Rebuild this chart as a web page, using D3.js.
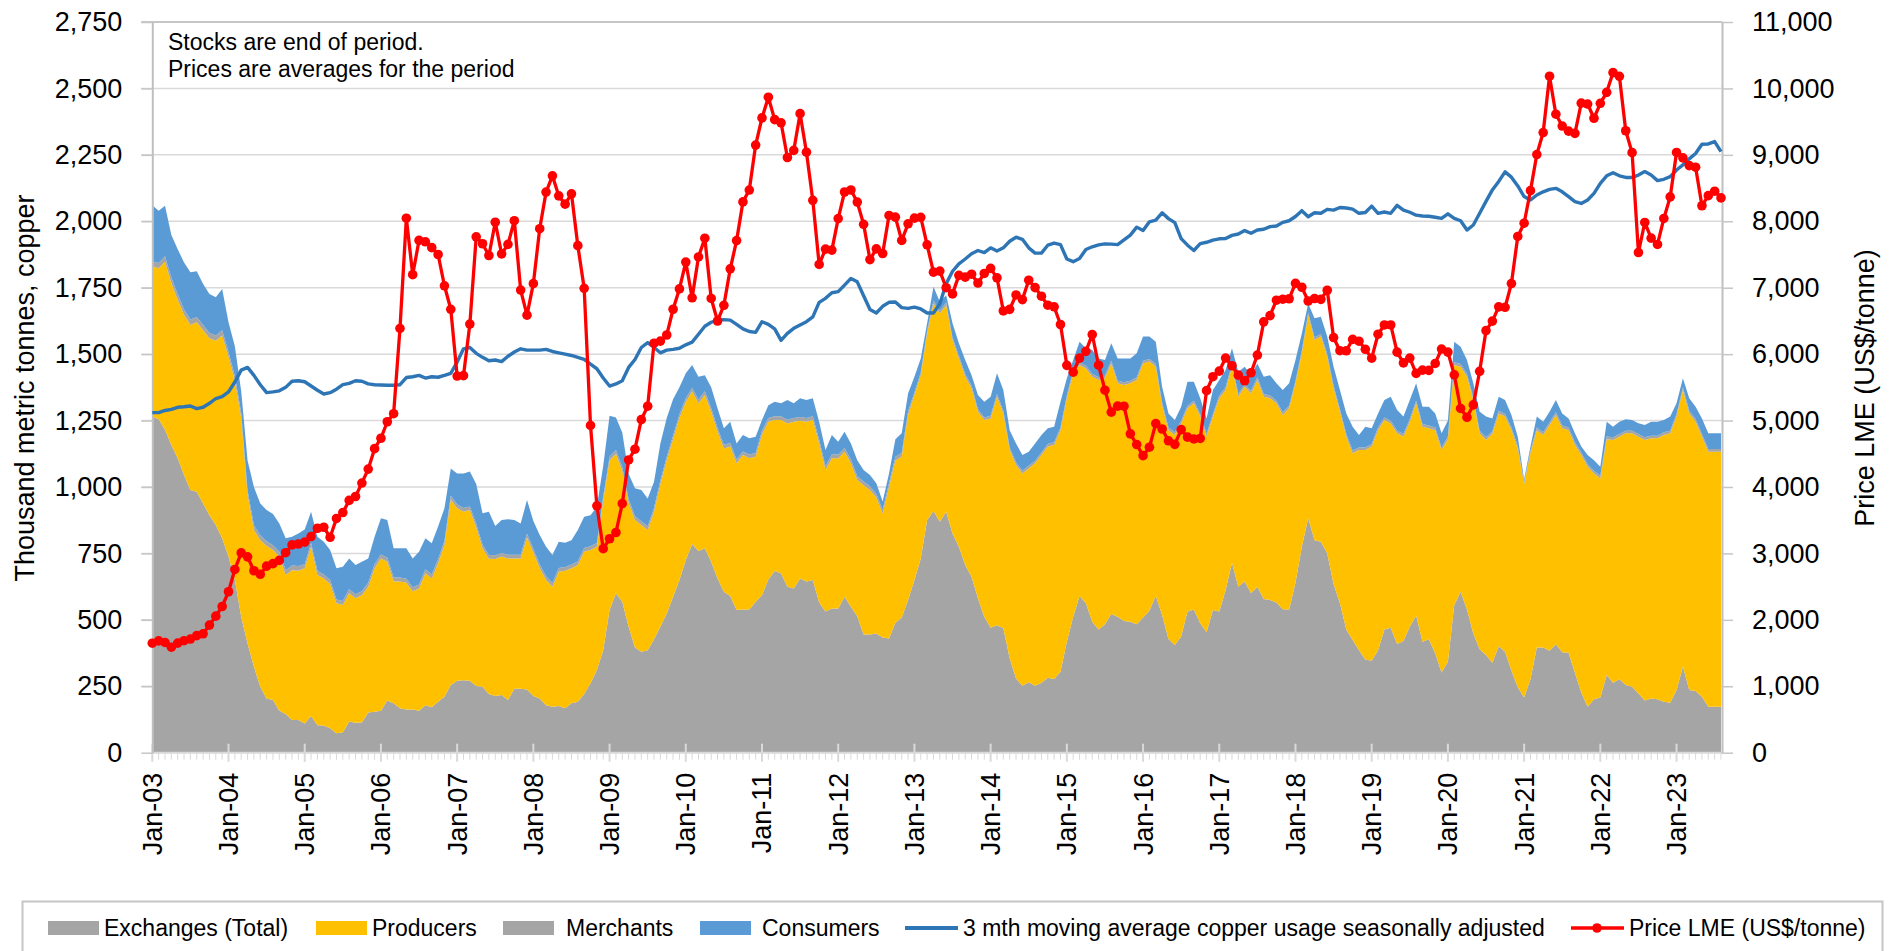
<!DOCTYPE html>
<html>
<head>
<meta charset="utf-8">
<script src="https://cdn.jsdelivr.net/npm/d3@7"></script>
<style>
  body { margin: 0; background: #fff; }
  svg text { font-family: "Liberation Sans", Arial, sans-serif; fill: #000; }
</style>
</head>
<body>
<svg id="chart" width="1903" height="951"></svg>
<script>
// Monthly data Jan-03 .. Aug-23, thousand tonnes (stocks, usage) and US$/t (price)
const exchanges = [
  1265,1255,1215,1158,1108,1045,989,982,938,894,857,807,
  738,650,512,411,324,248,204,198,158,146,123,123,
  110,138,103,102,92,73,77,117,113,114,151,154,
  158,196,186,167,163,163,158,179,171,192,211,255,
  271,273,271,251,248,221,213,217,198,241,241,238,
  213,204,179,173,176,167,186,192,221,261,311,386,
  537,600,568,474,396,380,386,427,474,524,587,650,
  725,785,759,769,719,656,606,590,537,539,539,568,
  593,652,684,675,625,618,656,644,650,565,531,543,
  543,587,549,514,445,445,449,434,430,489,508,575,
  650,731,876,910,869,907,825,775,706,662,581,512,
  470,480,468,355,279,252,265,252,263,282,277,305,
  418,512,590,562,493,464,483,522,512,496,493,483,
  509,534,591,518,428,405,437,531,539,487,453,537,
  531,612,715,625,644,600,625,578,575,565,540,539,
  640,775,882,800,794,750,635,562,464,424,386,351,
  346,386,464,470,409,420,474,516,418,427,374,302,
  342,556,606,539,449,389,368,339,401,380,309,246,
  208,276,396,396,384,408,378,376,301,227,173,201,
  208,292,263,276,255,248,223,196,204,201,192,188,
  236,324,236,232,211,173,173,173
];
const producers = [
  565,568,633,610,597,603,621,638,652,666,693,763,
  752,750,748,559,514,552,574,565,580,523,564,562,
  584,637,566,554,543,489,479,483,468,479,474,540,
  573,523,458,477,477,445,460,496,485,521,571,698,
  649,634,642,597,521,509,516,521,533,490,490,572,
  540,490,471,452,505,518,508,514,535,502,464,564,
  563,525,492,466,480,477,452,480,536,576,593,610,
  595,574,556,577,564,552,539,562,552,581,569,546,
  605,594,568,577,614,628,593,602,602,599,533,565,
  565,546,540,512,562,544,511,466,570,611,606,696,
  696,690,702,781,784,778,728,709,709,709,702,740,
  788,860,809,784,804,799,805,837,857,870,881,909,
  916,916,869,884,922,939,926,943,878,888,897,920,
  956,938,862,790,786,791,802,765,776,778,737,728,
  803,753,738,715,733,752,778,762,759,750,731,757,
  750,728,765,753,772,740,736,721,725,703,753,788,
  806,828,788,769,793,769,772,799,809,794,840,837,
  838,903,847,876,878,813,809,861,876,885,905,899,
  802,851,818,800,849,863,843,838,857,893,903,850,
  824,888,914,913,947,954,966,981,979,982,1004,1014,
  1029,1041,1041,1014,978,960,960,960
];
const merchants = [
  20,20,20,20,20,20,20,20,20,20,20,20,
  18,18,18,18,18,18,18,18,18,18,18,18,
  15,15,15,15,15,15,15,15,15,15,15,15,
  15,15,15,15,15,15,15,15,15,15,15,15,
  14,14,14,14,14,14,14,14,14,14,14,14,
  14,14,14,14,14,14,14,14,14,14,14,14,
  14,14,14,14,14,14,14,14,14,14,14,14,
  14,14,14,14,14,14,14,14,14,14,14,14,
  14,14,14,14,14,14,14,14,14,14,14,14,
  14,14,14,14,14,14,14,14,14,14,14,14,
  10,10,10,10,10,10,10,10,10,10,10,10,
  10,10,10,10,10,10,10,10,10,10,10,10,
  10,10,10,10,10,10,10,10,10,10,10,10,
  10,10,10,10,10,10,10,10,10,10,10,10,
  10,10,10,10,10,10,10,10,10,10,10,10,
  10,10,10,10,10,10,10,10,10,10,10,10,
  10,10,10,10,10,10,10,10,10,10,10,10,
  10,10,10,10,10,10,10,10,10,10,10,10,
  10,10,10,10,10,10,10,10,10,10,10,10,
  10,10,10,10,10,10,10,10,10,10,10,10,
  10,10,10,10,10,10,10,10
];
const consumers = [
  210,197,190,160,170,177,178,172,154,146,144,155,
  112,112,82,112,144,120,117,117,107,120,108,122,
  131,117,129,123,113,117,129,116,110,111,91,104,
  136,142,110,110,114,108,123,117,117,123,123,102,
  117,130,131,149,118,163,110,124,134,131,118,127,
  105,111,111,105,99,91,92,118,118,117,137,116,
  154,123,131,96,105,118,105,99,140,146,136,101,
  94,86,86,61,78,74,62,80,61,62,61,61,
  40,48,55,49,74,55,71,67,68,68,61,74,
  48,61,61,61,43,42,40,31,37,66,74,67,
  59,53,28,53,34,27,53,47,53,40,53,59,
  72,78,78,65,71,59,53,65,66,59,59,97,
  65,40,78,66,91,71,59,66,84,90,84,90,
  91,84,84,59,53,46,53,90,71,59,58,90,
  59,65,59,84,66,59,52,65,77,65,84,84,
  78,65,34,72,65,66,72,72,78,90,47,78,
  59,53,65,91,78,66,71,65,65,71,53,53,
  60,78,65,53,53,71,78,48,53,52,47,34,
  8,15,41,40,40,46,46,34,34,22,34,40,
  34,56,40,47,43,40,41,46,53,53,46,53,
  40,34,47,46,59,59,59,59
];
const usage = [
  1280,1280,1288,1292,1300,1302,1305,1295,1300,1315,1333,1340,
  1358,1395,1440,1450,1420,1385,1355,1358,1362,1375,1398,1400,
  1396,1380,1364,1350,1355,1368,1385,1390,1400,1398,1388,1385,
  1384,1383,1383,1385,1412,1415,1420,1410,1415,1413,1420,1428,
  1470,1520,1525,1503,1488,1475,1478,1472,1492,1508,1520,1515,
  1515,1515,1518,1510,1505,1500,1495,1488,1480,1462,1445,1410,
  1380,1388,1400,1450,1480,1525,1543,1525,1505,1515,1518,1522,
  1535,1545,1575,1605,1620,1628,1630,1628,1612,1595,1585,1582,
  1622,1612,1595,1552,1578,1597,1610,1622,1640,1695,1710,1731,
  1735,1760,1785,1772,1720,1668,1655,1680,1695,1696,1675,1672,
  1677,1670,1655,1655,1690,1765,1812,1840,1858,1878,1890,1882,
  1900,1888,1900,1925,1940,1932,1900,1880,1880,1910,1918,1912,
  1858,1848,1860,1894,1904,1911,1915,1914,1912,1930,1948,1978,
  1965,1998,2004,2032,2010,1995,1935,1910,1890,1916,1921,1929,
  1934,1935,1947,1952,1965,1955,1967,1970,1980,1982,1996,2002,
  2018,2040,2017,2032,2030,2045,2042,2052,2050,2046,2030,2033,
  2057,2030,2035,2030,2060,2042,2034,2023,2020,2019,2015,2011,
  2028,2011,2002,1967,1986,2030,2075,2118,2150,2186,2166,2133,
  2093,2080,2099,2111,2120,2124,2111,2093,2074,2067,2080,2105,
  2143,2171,2183,2171,2165,2165,2174,2187,2174,2153,2158,2168,
  2193,2212,2235,2255,2290,2291,2300,2262
];
const priceLME = [
  1648,1683,1660,1588,1650,1686,1711,1762,1790,1921,2056,2201,
  2423,2759,3008,2948,2739,2686,2808,2846,2895,3011,3128,3142,
  3170,3254,3379,3394,3243,3526,3615,3798,3857,4059,4269,4577,
  4734,4982,5103,6387,8046,7196,7712,7691,7603,7500,7029,6675,
  5670,5676,6452,7766,7662,7485,7986,7510,7652,8009,6965,6587,
  7061,7888,8439,8685,8383,8258,8414,7633,6991,4926,3717,3072,
  3221,3315,3751,4407,4569,5014,5216,6165,6196,6288,6676,6982,
  7386,6848,7463,7745,6838,6499,6735,7284,7709,8292,8470,9147,
  9556,9868,9530,9483,8960,9067,9620,9040,8315,7350,7581,7566,
  8041,8441,8471,8289,7955,7423,7584,7515,8088,8062,7711,7962,
  8047,8060,7646,7234,7250,7000,6907,7186,7159,7203,7071,7215,
  7291,7149,6650,6674,6891,6821,7113,7002,6872,6737,6713,6446,
  5831,5729,5940,6042,6295,5833,5457,5127,5217,5216,4800,4639,
  4472,4599,4954,4873,4695,4642,4864,4750,4723,4731,5450,5660,
  5745,5941,5825,5684,5599,5720,5986,6486,6580,6812,6827,6834,
  7065,7007,6800,6837,6825,6962,6250,6052,6050,6222,6195,6073,
  5939,6300,6439,6439,6030,5868,5940,5710,5760,5755,5860,6077,
  6031,5688,5182,5049,5236,5742,6354,6497,6712,6705,7063,7772,
  7971,8461,9005,9336,10184,9612,9434,9357,9324,9778,9765,9551,
  9776,9941,10238,10183,9363,9033,7530,7982,7746,7651,8043,8367,
  9036,8955,8838,8814,8234,8386,8453,8352
];
const yearLabels = ["Jan-03","Jan-04","Jan-05","Jan-06","Jan-07","Jan-08","Jan-09","Jan-10",
  "Jan-11","Jan-12","Jan-13","Jan-14","Jan-15","Jan-16","Jan-17","Jan-18","Jan-19",
  "Jan-20","Jan-21","Jan-22","Jan-23"];
const stockTicks = [0,250,500,750,1000,1250,1500,1750,2000,2250,2500,2750];
const priceTicks = [0,1000,2000,3000,4000,5000,6000,7000,8000,9000,10000,11000];

// Plot geometry
const plotLeft = 152.3, plotRight = 1721, plotTop = 22, plotBottom = 752.7;
const svg = d3.select("#chart");
svg.append("rect").attr("width", 1903).attr("height", 951).attr("fill", "#fff");

const x = d3.scaleLinear().domain([0, exchanges.length - 1]).range([plotLeft, plotRight]);
const yStock = d3.scaleLinear().domain([0, 2750]).range([plotBottom, plotTop]);
const yPrice = d3.scaleLinear().domain([0, 11000]).range([plotBottom, plotTop]);

// Grid lines (horizontal)
svg.append("g").selectAll("line")
  .data(stockTicks.filter(d => d > 0))
  .enter().append("line")
  .attr("x1", plotLeft - 11).attr("x2", plotRight + 1)
  .attr("y1", d => yStock(d)).attr("y2", d => yStock(d))
  .attr("stroke", d => d === 2750 ? "#c6c6c6" : "#d9d9d9")
  .attr("stroke-width", d => d === 2750 ? 2 : 1.5);

// Stacked areas
const rows = exchanges.map((e, i) => ({
  i: i, exchanges: e, producers: producers[i], merchants: merchants[i], consumers: consumers[i]
}));
const keys = ["exchanges", "producers", "merchants", "consumers"];
const colors = { exchanges: "#a5a5a5", producers: "#ffc000", merchants: "#a5a5a5", consumers: "#5b9bd5" };
const stacked = d3.stack().keys(keys)(rows);
const area = d3.area()
  .x(d => x(d.data.i))
  .y0(d => yStock(d[0]))
  .y1(d => yStock(d[1]));
svg.append("g").selectAll("path")
  .data(stacked)
  .enter().append("path")
  .attr("fill", d => colors[d.key])
  .attr("d", area);

// X axis: monthly minor ticks, yearly major ticks
const xAxis = svg.append("g");
xAxis.append("line")
  .attr("x1", plotLeft).attr("x2", plotRight + 1)
  .attr("y1", plotBottom).attr("y2", plotBottom)
  .attr("stroke", "#d9d9d9").attr("stroke-width", 2);
xAxis.selectAll(".minor")
  .data(d3.range(exchanges.length))
  .enter().append("line")
  .attr("x1", d => x(d)).attr("x2", d => x(d))
  .attr("y1", d => d % 12 === 0 ? plotBottom - 9 : plotBottom)
  .attr("y2", d => d % 12 === 0 ? plotBottom + 9 : plotBottom + 7)
  .attr("stroke", "#d9d9d9").attr("stroke-width", d => d % 12 === 0 ? 2 : 1);
xAxis.selectAll("text")
  .data(yearLabels)
  .enter().append("text")
  .attr("transform", (d, k) => `translate(${x(k * 12)},${plotBottom + 20}) rotate(-90)`)
  .attr("dy", "0.35em")
  .attr("text-anchor", "end")
  .style("font-size", "27px")
  .text(d => d);

// Left axis
const leftAxis = svg.append("g")
  .attr("transform", `translate(${plotLeft},0)`)
  .call(d3.axisLeft(yStock).tickValues(stockTicks).tickSize(11).tickSizeOuter(0)
    .tickPadding(19).tickFormat(d3.format(",")));
leftAxis.select(".domain").attr("stroke", "#bfbfbf").attr("stroke-width", 2);
leftAxis.selectAll(".tick line").attr("stroke", "#c6c6c6").attr("stroke-width", 1.5);
leftAxis.selectAll("text").attr("fill", "#000").style("font-size", "27px")
  .style("font-family", "'Liberation Sans', Arial, sans-serif");

// Right axis (price)
const rightAxis = svg.append("g")
  .attr("transform", `translate(${plotRight + 1},0)`)
  .call(d3.axisRight(yPrice).tickValues(priceTicks).tickSize(11).tickSizeOuter(0)
    .tickPadding(19).tickFormat(d3.format(",")));
rightAxis.select(".domain").attr("stroke", "#bfbfbf").attr("stroke-width", 2);
rightAxis.selectAll(".tick line").attr("stroke", "#c6c6c6").attr("stroke-width", 1.5);
rightAxis.selectAll("text").attr("fill", "#000").style("font-size", "27px")
  .style("font-family", "'Liberation Sans', Arial, sans-serif");

// Usage line
const usageLine = d3.line().x((d, i) => x(i)).y(d => yStock(d));
svg.append("path")
  .datum(usage)
  .attr("fill", "none")
  .attr("stroke", "#2e75b6")
  .attr("stroke-width", 3.4)
  .attr("stroke-linejoin", "round")
  .attr("d", usageLine);

// Price line with markers
const priceLine = d3.line().x((d, i) => x(i)).y(d => yPrice(d));
svg.append("path")
  .datum(priceLME)
  .attr("fill", "none")
  .attr("stroke", "#ff0000")
  .attr("stroke-width", 3.3)
  .attr("stroke-linejoin", "round")
  .attr("d", priceLine);
svg.append("g").selectAll("circle")
  .data(priceLME)
  .enter().append("circle")
  .attr("cx", (d, i) => x(i))
  .attr("cy", d => yPrice(d))
  .attr("r", 4.8)
  .attr("fill", "#ff0000");

// Annotation
const note = svg.append("text").style("font-size", "23px");
note.append("tspan").attr("x", 168).attr("y", 50).text("Stocks are end of period.");
note.append("tspan").attr("x", 168).attr("y", 77).text("Prices are averages for the period");

// Axis titles
svg.append("text")
  .attr("transform", "translate(34,388) rotate(-90)")
  .attr("text-anchor", "middle")
  .style("font-size", "27px")
  .text("Thousand metric tonnes, copper");
svg.append("text")
  .attr("transform", "translate(1874,388) rotate(-90)")
  .attr("text-anchor", "middle")
  .style("font-size", "27px")
  .text("Price LME (US$/tonne)");

// Legend
const legend = svg.append("g");
legend.append("rect")
  .attr("x", 22.5).attr("y", 901.5).attr("width", 1860).attr("height", 80)
  .attr("fill", "#fff").attr("stroke", "#c6c6c6").attr("stroke-width", 2);
const legendItems = [
  { label: "Exchanges (Total)", type: "box", color: "#a5a5a5", x: 48, tx: 104 },
  { label: "Producers", type: "box", color: "#ffc000", x: 316, tx: 372 },
  { label: "Merchants", type: "box", color: "#a5a5a5", x: 503, tx: 566 },
  { label: "Consumers", type: "box", color: "#5b9bd5", x: 700, tx: 762 },
  { label: "3 mth moving average copper usage seasonally adjusted", type: "line", color: "#2e75b6", x: 905, tx: 963 },
  { label: "Price LME (US$/tonne)", type: "marker", color: "#ff0000", x: 1571, tx: 1629 }
];
legendItems.forEach(item => {
  if (item.type === "box") {
    legend.append("rect")
      .attr("x", item.x).attr("y", 921).attr("width", 51).attr("height", 14)
      .attr("fill", item.color);
  } else {
    legend.append("line")
      .attr("x1", item.x).attr("x2", item.x + 53)
      .attr("y1", 928).attr("y2", 928)
      .attr("stroke", item.color).attr("stroke-width", item.type === "line" ? 4 : 3.3);
    if (item.type === "marker") {
      legend.append("circle")
        .attr("cx", item.x + 26).attr("cy", 928).attr("r", 4.8)
        .attr("fill", item.color);
    }
  }
  legend.append("text")
    .attr("x", item.tx).attr("y", 936)
    .style("font-size", "23px")
    .text(item.label);
});
</script>
</body>
</html>
